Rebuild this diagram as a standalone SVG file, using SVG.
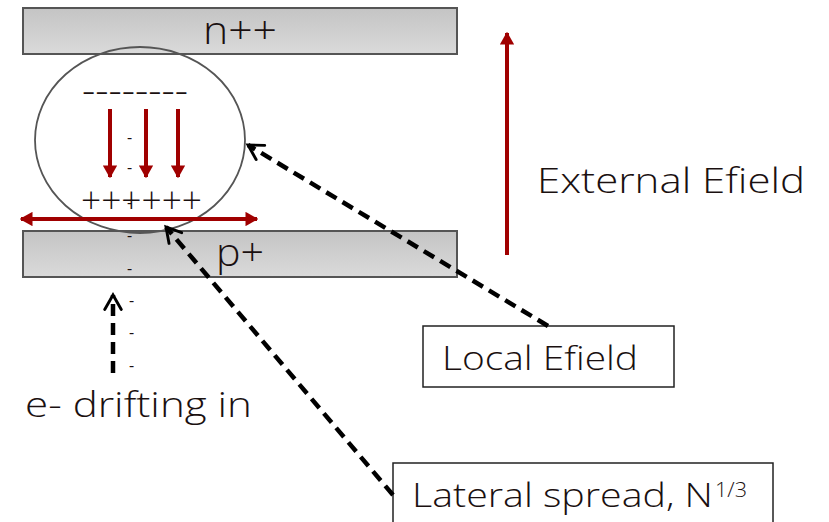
<svg xmlns="http://www.w3.org/2000/svg" width="829" height="522" viewBox="0 0 829 522">
<defs>
<linearGradient id="bar" x1="0" y1="0" x2="0" y2="1">
<stop offset="0" stop-color="#c4c4c4"/>
<stop offset="1" stop-color="#dadada"/>
</linearGradient>
<marker id="redHead" viewBox="0 0 10 10" refX="9" refY="5" markerWidth="3.2" markerHeight="3.6" preserveAspectRatio="none" orient="auto-start-reverse" markerUnits="strokeWidth">
<path d="M0,0 L10,5 L0,10 z" fill="#a00000"/>
</marker>
<marker id="openHead" viewBox="0 0 10 10" refX="8" refY="5" markerWidth="4.6" markerHeight="4.6" orient="auto" markerUnits="strokeWidth">
<path d="M1,1 L8,5 L1,9" fill="none" stroke="#000" stroke-width="1.4" stroke-linecap="round" stroke-linejoin="miter"/>
</marker>
</defs>
<style>
.bar{fill:url(#bar);stroke:#555;stroke-width:2}
.t{font-family:"Open Sans","Liberation Sans",sans-serif;fill:#1a1010;font-weight:300}
.red{stroke:#a00000;fill:none}
.dash{stroke:#000;stroke-width:4.5;stroke-dasharray:12 7;fill:none}
.box{fill:#fff;stroke:#222;stroke-width:1.5}
.m{font-family:"Open Sans","Liberation Sans",sans-serif;fill:#1a1010;font-size:18}
</style>
<g id="n-layer">
<rect class="bar" x="23" y="8" width="434" height="46"/>
<text class="t" x="203" y="44" font-size="38" font-weight="400" textLength="74" lengthAdjust="spacingAndGlyphs">n++</text>
</g>
<g id="p-layer">
<rect class="bar" x="23" y="231" width="434" height="46"/>
<text class="t" x="216" y="266" font-size="38" font-weight="400" textLength="48" lengthAdjust="spacingAndGlyphs">p+</text>
</g>
<g id="cluster">
<ellipse cx="140" cy="140" rx="105" ry="93" fill="none" stroke="#555" stroke-width="1.8"/>
<text class="t" x="82" y="104" font-size="40" font-weight="400" textLength="106" lengthAdjust="spacingAndGlyphs">--------</text>
<text class="t" x="81" y="213" font-size="36" textLength="121" lengthAdjust="spacingAndGlyphs">++++++</text>
<line class="red" x1="110" y1="109" x2="110" y2="177" stroke-width="4" marker-end="url(#redHead)"/>
<line class="red" x1="146" y1="109" x2="146" y2="177" stroke-width="4" marker-end="url(#redHead)"/>
<line class="red" x1="178" y1="109" x2="178" y2="177" stroke-width="4" marker-end="url(#redHead)"/>
<line class="red" x1="21" y1="219" x2="257" y2="219" stroke-width="4" marker-start="url(#redHead)" marker-end="url(#redHead)"/>
</g>
<g id="electrons">
<text class="m" x="127" y="143">-</text>
<text class="m" x="127" y="173">-</text>
<text class="m" x="127" y="208">-</text>
<text class="m" x="127" y="241">-</text>
<text class="m" x="127" y="274">-</text>
<text class="m" x="129" y="306">-</text>
<text class="m" x="129" y="338">-</text>
<text class="m" x="129" y="371">-</text>
</g>
<g id="external-efield">
<line class="red" x1="507" y1="255" x2="507" y2="33" stroke-width="4" marker-end="url(#redHead)"/>
<text class="t" x="537" y="193" font-size="35" textLength="268" lengthAdjust="spacingAndGlyphs">External Efield</text>
</g>
<g id="local-efield">
<rect class="box" x="423" y="326" width="251" height="61"/>
<text class="t" x="442" y="370" font-size="33" textLength="196" lengthAdjust="spacingAndGlyphs">Local Efield</text>
</g>
<g id="lateral-spread">
<rect class="box" x="393" y="463" width="380" height="70"/>
<text class="t" x="412" y="507" font-size="33"><tspan textLength="301" lengthAdjust="spacingAndGlyphs">Lateral spread, N</tspan><tspan font-size="20" dy="-10" dx="2" textLength="32" lengthAdjust="spacingAndGlyphs">1/3</tspan></text>
</g>
<g id="drift-label">
<text class="t" x="25" y="417" font-size="35" textLength="227" lengthAdjust="spacingAndGlyphs">e- drifting in</text>
</g>
<g id="connectors">
<path class="dash" d="M548,326 L248,145" marker-end="url(#openHead)"/>
<path class="dash" d="M393,495 L166,227" marker-end="url(#openHead)"/>
<path class="dash" d="M113,373 L113,295" marker-end="url(#openHead)"/>
</g>
</svg>
